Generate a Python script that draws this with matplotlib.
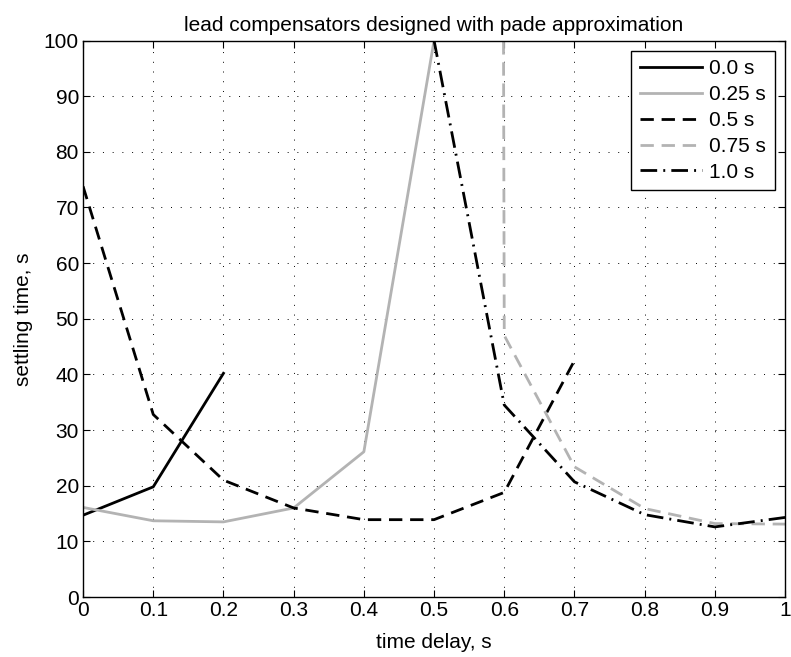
import matplotlib
matplotlib.use('Agg')
import matplotlib.pyplot as plt

plt.rcParams['font.family'] = ['Liberation Sans', 'DejaVu Sans']

# settling time vs time delay, one series per compensator design delay
x_00 = [0.0, 0.1, 0.2]
y_00 = [14.7, 19.8, 40.2]

x_025 = [0.0, 0.1, 0.2, 0.3, 0.4, 0.5]
y_025 = [16.1, 13.7, 13.5, 16.0, 26.1, 100.0]

x_05 = [0.0, 0.1, 0.2, 0.3, 0.4, 0.5, 0.6, 0.7]
y_05 = [73.8, 32.8, 21.0, 16.0, 13.9, 13.9, 18.8, 42.5]

# first point is far off the top of the chart
x_075 = [0.5, 0.6, 0.7, 0.8, 0.9, 1.0]
y_075 = [5000.0, 47.0, 23.4, 15.9, 13.2, 13.1]

x_10 = [0.5, 0.6, 0.7, 0.8, 0.9, 1.0]
y_10 = [100.0, 34.5, 20.7, 14.8, 12.6, 14.3]

labels = ['0.0 s', '0.25 s', '0.5 s', '0.75 s', '1.0 s']
gray = (0.7, 0.7, 0.7)

fig = plt.figure(figsize=(7.91, 6.57), dpi=100)
ax = fig.add_axes([0.105, 0.0913, 0.8875, 0.847])

lw = 2.0
ax.plot(x_00, y_00, color='black', lw=lw, label=labels[0])
ax.plot(x_025, y_025, color=gray, lw=lw, label=labels[1])
ax.plot(x_05, y_05, color='black', lw=lw, ls=(0, (4.8, 2.8)), label=labels[2])
ax.plot(x_075, y_075, color=gray, lw=lw, ls=(0, (4.8, 2.8)), label=labels[3])
ax.plot(x_10, y_10, color='black', lw=lw, ls=(0, (6, 2.2, 0.7, 2.2)), label=labels[4])

ax.set_xlim(0, 1)
ax.set_ylim(0, 100)
ax.set_xticks([i / 10 for i in range(11)])
ax.set_xticklabels(['0', '0.1', '0.2', '0.3', '0.4', '0.5', '0.6', '0.7', '0.8', '0.9', '1'])
ax.set_yticks(range(0, 101, 10))
ax.tick_params(direction='in', top=True, right=True, length=5, labelsize=15, pad=3)
ax.grid(True, color='black', ls=(0, (1, 9)), lw=0.7)
for s in ax.spines.values():
    s.set_linewidth(1.0)

ax.set_title('lead compensators designed with pade approximation', fontsize=15, pad=7)
ax.set_xlabel('time delay, s', fontsize=15, labelpad=9)
ax.set_ylabel('settling time, s', fontsize=15, labelpad=8)

leg = ax.legend(loc='upper right', fontsize=15, handlelength=3.0, fancybox=False,
                edgecolor='black', framealpha=1, borderaxespad=0.5,
                labelspacing=0.33, handletextpad=0.35, borderpad=0.4)
leg.get_frame().set_linewidth(1.0)

fig.savefig('out.png', dpi=100)
